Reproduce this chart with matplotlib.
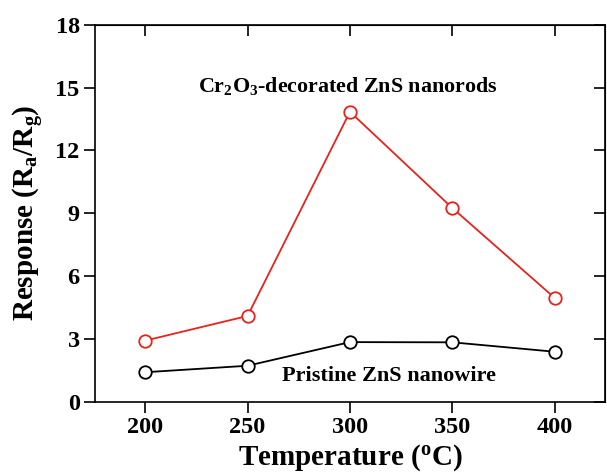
import matplotlib

matplotlib.use("Agg")
import matplotlib.pyplot as plt

temperature = [200, 250, 300, 350, 400]
cr2o3_response = [2.91, 4.09, 13.85, 9.25, 4.95]
pristine_response = [1.40, 1.71, 2.84, 2.83, 2.38]
x_ticks = [200, 250, 300, 350, 400]
y_ticks = [0, 3, 6, 9, 12, 15, 18]

plt.rcParams["font.family"] = ["Liberation Serif", "DejaVu Serif"]
plt.rcParams["font.weight"] = "bold"
plt.rcParams["axes.labelweight"] = "bold"
plt.rcParams["mathtext.fontset"] = "custom"
plt.rcParams["mathtext.rm"] = "Liberation Serif:bold"
plt.rcParams["mathtext.bf"] = "Liberation Serif:bold"
plt.rcParams["mathtext.it"] = "Liberation Serif:bold"

fig = plt.figure(figsize=(6.07, 4.75), dpi=100)
ax = fig.add_axes([0.1565, 0.1547, 0.84, 0.7927])

ax.plot(temperature, cr2o3_response, "-o", color="#e8231c", lw=1.3, ms=9,
        mfc="white", mec="#e8231c", mew=1.3)
ax.plot(temperature, pristine_response, "-o", color="black", lw=1.3, ms=9,
        mfc="white", mec="black", mew=1.3)

ax.set_xlim(175.5, 424.5)
ax.set_ylim(0, 18)
ax.set_xticks(x_ticks)
ax.set_yticks(y_ticks)

for s in ax.spines.values():
    s.set_linewidth(1.2)
ax.tick_params(axis="both", which="major", direction="out", length=8, width=1.2,
               labelsize=17.5, pad=3)
ax.tick_params(axis="both", which="major", top=False, right=False)
sec_x = ax.secondary_xaxis("top")
sec_x.set_xticks(x_ticks)
sec_x.tick_params(direction="in", length=8, width=1.2, labeltop=False)
sec_y = ax.secondary_yaxis("right")
sec_y.set_yticks(y_ticks)
sec_y.tick_params(direction="in", length=8, width=1.2, labelright=False)

ax.set_xlabel(r"Temperature ($\mathrm{^oC}$)", fontsize=21, labelpad=3)
ax.set_ylabel(r"Response (R$_\mathrm{a}$/R$_\mathrm{g}$)", fontsize=21, labelpad=7)

ax.text(299, 15.1, r"Cr$_2$O$_3$-decorated ZnS nanorods", fontsize=15.8,
        ha="center", va="center")
ax.text(319, 1.2, "Pristine ZnS nanowire", fontsize=16, ha="center", va="center")

fig.savefig("out.png", dpi=100)
